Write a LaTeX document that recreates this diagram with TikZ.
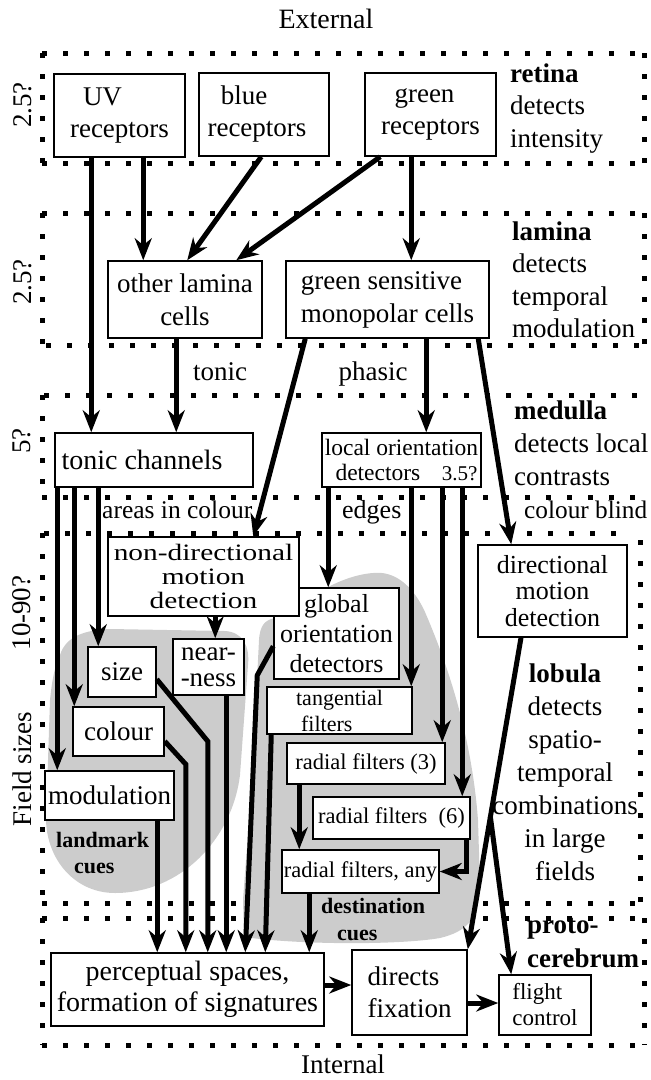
\documentclass[tikz,border=0pt]{standalone}
\usepackage{fontspec}
\setmainfont{Liberation Serif}
\newfontfamily\widefont[FakeStretch=1.25]{Liberation Serif}
\usetikzlibrary{arrows.meta,calc}
\definecolor{lgray}{RGB}{204,204,204}
\newcommand{\fsz}[2]{\fontsize{#1}{#2}\selectfont}
\newcommand{\stack}[2]{\begin{tabular}[t]{@{}#1@{}}#2\end{tabular}}
% box from corner (x1,y1) to corner (x2,y2)
\newcommand{\mkbox}[7][]{\node[boxst,minimum width={#5-#3},minimum height={#6-#4},#1] (#2) at ({(#3+#5)/2},{(#4+#6)/2}) {#7};}
\tikzset{
  boxst/.style={draw, line width=1.5pt, fill=white, inner sep=0pt, align=center, font=\fsz{27}{31}},
  arr/.style={line width=5pt, -{Stealth[length=22pt,width=17pt,inset=7pt]}},
  layerdots/.style={line width=5pt, dash pattern=on 5pt off 16pt},
  shade/.style={fill=lgray, draw=none},
  lbl/.style={inner sep=0pt, font=\fsz{27}{32.5}},
}
\begin{document}
\begin{tikzpicture}[x=1pt,y=-1pt]
\useasboundingbox (0,0) rectangle (651,1080);

% ---------- dotted layer frames ----------
% retina
\draw[layerdots] (42,53) -- (644,53);
\draw[layerdots] (42,53) -- (42,163);
\draw[layerdots] (42,163) -- (644,163);
\draw[layerdots] (644,53) -- (644,163);
% lamina
\draw[layerdots] (42,213) -- (644,213);
\draw[layerdots] (42,213) -- (42,345);
\draw[layerdots] (46,345) -- (644,345);
\draw[layerdots] (644,213) -- (644,345);
% medulla
\draw[layerdots] (44,395) -- (644,395);
\draw[layerdots] (42,395) -- (42,497);
\draw[layerdots] (42,497) -- (644,497);
% lobula
\draw[layerdots] (44,533) -- (630,533);
\draw[layerdots] (42,533) -- (42,903);
\draw[layerdots] (42,903) -- (644,903);
\draw[layerdots] (640,540) -- (640,903);
% protocerebrum
\draw[layerdots] (42,918) -- (644,918);
\draw[layerdots] (42,918) -- (42,1045);
\draw[layerdots] (42,1045) -- (644,1045);
\draw[layerdots] (644,918) -- (644,1045);

% ---------- shaded cue regions ----------
\fill[shade] (60,655) .. controls (66,636) and (85,630) .. (110,629)
  -- (225,631) .. controls (242,632) and (250,645) .. (248,665)
  -- (240,775) .. controls (232,840) and (180,893) .. (115,893)
  .. controls (75,893) and (47,860) .. (46,820)
  -- (50,700) .. controls (52,680) and (55,665) .. (60,655) -- cycle;
\fill[shade] (244,937) -- (243,900) -- (252,780) -- (259,640)
  .. controls (260,625) and (265,620) .. (275,618)
  -- (330,586) .. controls (350,576) and (368,572) .. (382,573)
  .. controls (400,575) and (415,590) .. (425,612)
  .. controls (450,670) and (472,740) .. (478,820)
  -- (480,885) .. controls (480,920) and (465,932) .. (440,938)
  .. controls (400,945) and (300,945) .. (244,937) -- cycle;

% ---------- boxes ----------
\mkbox[font=\fsz{27}{32}]{uv}{54}{74}{185}{157}{UV\hspace*{34pt}\\receptors}
\mkbox[font=\fsz{27}{32}]{blue}{199}{73}{329}{156}{blue\hspace*{40pt}\\receptors\hspace*{14pt}}
\mkbox[font=\fsz{27}{32}]{green}{365}{73}{496}{156}{green\hspace*{12pt}\\receptors}
\mkbox[font=\fsz{27}{33}]{other}{108}{261}{262}{338}{other lamina\\cells}
\mkbox[font=\fsz{27}{33},align=left]{gsens}{286}{261}{489}{338}{green sensitive\\monopolar cells}
\mkbox[font=\fsz{28}{31}]{tonicch}{55}{433}{253}{487}{tonic channels\hspace*{24pt}}
\mkbox[font=\fsz{23.5}{25}]{localor}{322}{433}{481}{487}{local orientation\\\makebox[152pt]{\hspace*{10pt}detectors\hfill{\fsz{21}{25}3.5?}}}
\mkbox[font=\fsz{26}{30}]{glob}{274}{588}{399}{679}{global\\orientation\\detectors}
\mkbox[font={\widefont\fsz{23.5}{24}}]{nondir}{108}{537}{299}{616}{non-directional\\motion\\detection}
\mkbox[font=\fsz{26}{26.5}]{dirmot}{478}{545}{627}{637}{directional\\motion\\detection}
\mkbox[font=\fsz{22}{26},align=left]{tang}{267}{687}{412}{734}{tangential\\\hspace*{5pt}filters}
\mkbox[font=\fsz{22.5}{26}]{rad3}{287}{743}{445}{784}{radial filters (3)}
\mkbox[font=\fsz{22.5}{26}]{rad6}{313}{797}{470}{839}{radial filters\ \ (6)}
\mkbox[font=\fsz{22.5}{26}]{radany}{282}{850}{439}{893}{radial filters, any}
\mkbox{size}{88}{647}{156}{697}{size}
\mkbox[font=\fsz{27}{26}]{near}{173}{639}{244}{695}{near-\\-ness}
\mkbox{colour}{73}{707}{164}{756}{colour}
\mkbox{modul}{45}{771}{174}{820}{modulation}
\mkbox[font=\fsz{28}{31}]{percep}{51}{953}{324}{1026}{perceptual spaces,\\formation of signatures}
\mkbox[font=\fsz{27}{32},align=left]{fix}{352}{950}{467}{1035}{directs\\fixation}
\mkbox[font=\fsz{23}{26},align=left]{flight}{499}{975}{591}{1035}{flight\\control}

% ---------- connectors ----------
% retina to lamina and medulla
\draw[arr] ([xshift=38pt]uv.south west) coordinate (a1) -- (a1 |- tonicch.north);
\draw[arr] ([xshift=90pt]uv.south west) coordinate (b1) -- (b1 |- other.north);
\draw[arr] ([xshift=63pt]blue.south west) -- ([xshift=80pt]other.north west);
\draw[arr] ([xshift=16pt]green.south west) -- ([xshift=129pt]other.north west);
\draw[arr] ([xshift=47pt]green.south west) coordinate (e1) -- (e1 |- gsens.north);
% lamina to medulla and lobula
\draw[arr] ([xshift=69pt]other.south west) coordinate (f1) -- (f1 |- tonicch.north);
\draw[arr] ([xshift=20pt]gsens.south west) -- ([xshift=146pt]nondir.north west);
\draw[arr] ([xshift=141pt]gsens.south west) coordinate (h1) -- (h1 |- localor.north);
\draw[arr] ([xshift=193pt]gsens.south west) -- ([xshift=34pt]dirmot.north west);
% medulla to lobula
\draw[arr] ([xshift=3pt]tonicch.south west) coordinate (j1) -- (j1 |- modul.north);
\draw[arr] ([xshift=20pt]tonicch.south west) coordinate (k1) -- (k1 |- colour.north);
\draw[arr] ([xshift=44pt]tonicch.south west) coordinate (l1) -- (l1 |- size.north);
\draw[arr] ([xshift=7pt]localor.south west) coordinate (m1) -- (m1 |- glob.north);
\draw[arr] ([xshift=90pt]localor.south west) coordinate (n1) -- (n1 |- tang.north);
\draw[arr] ([xshift=121pt]localor.south west) coordinate (o1) -- (o1 |- rad3.north);
\draw[arr] ([xshift=141pt]localor.south west) coordinate (p1) -- (p1 |- rad6.north);
\draw[arr] ([xshift=108pt]nondir.south west) coordinate (q1) -- (q1 |- near.north);
% lobula internal
\draw[arr] ([xshift=13pt]rad3.south west) coordinate (x1) -- (x1 |- radany.north);
\draw[arr] ([xshift=-4pt]rad6.south east) |- (radany.east);
% lobula to protocerebrum
\draw[arr] ([xshift=113pt]modul.south west) coordinate (r1) -- (r1 |- percep.north);
\draw[arr] ([yshift=-35pt]colour.north east) -- ++(21,23) coordinate (s2) -- (s2 |- percep.north);
\draw[arr] ([yshift=-33pt]size.north east) -- ++(51,62) coordinate (t2) -- (t2 |- percep.north);
\draw[arr] ([xshift=54pt]near.south west) coordinate (u1) -- (u1 |- percep.north);
\draw[arr] ([yshift=-59pt]glob.north west) -- ++(-16,29) -- ([xshift=195pt]percep.north west);
\draw[arr] ([xshift=5pt]tang.south west) -- ([xshift=215pt]percep.north west);
\draw[arr] ([xshift=28pt]radany.south west) coordinate (z1) -- (z1 |- percep.north);
\draw[arr] ([xshift=-31.5pt]dirmot.south) coordinate (aa1) -- (fix.north east);
\coordinate (br) at ($(aa1)!0.575!(fix.north east)$);
\draw[arr] (br) -- ([xshift=13pt]flight.north west);
% protocerebrum
\draw[arr] ([yshift=4.5pt]percep.east) coordinate (c1) -- (c1 -| fix.west);
\draw[arr] ([yshift=-10.5pt]fix.east) coordinate (d1) -- (d1 -| flight.west);

% ---------- labels ----------
\node[lbl, font=\fsz{28}{32}, anchor=base] (ext) at (326,28) {External};
\node[lbl, anchor=base] (int) at (343,1073) {Internal};
\node[lbl, anchor=base west] (retinatxt) at (510,82) {\stack{l}{\textbf{retina}\\detects\\intensity}};
\node[lbl, anchor=base west] (laminatxt) at (512,240) {\stack{l}{\textbf{lamina}\\detects\\temporal\\modulation}};
\node[lbl, font=\fsz{27}{33}, anchor=base west] (medullatxt) at (514,419) {\stack{l}{\textbf{medulla}\\detects local\\contrasts}};
\node[lbl, font=\fsz{27}{33}, anchor=base] (lobulatxt) at (565,682) {\stack{c}{\textbf{lobula}\\detects\\spatio-\\temporal\\combinations\\in large\\fields}};
\node[lbl, font=\fsz{27}{34}\bfseries, anchor=base west] (prototxt) at (527,933) {\stack{l}{proto-\\cerebrum}};
\node[lbl, anchor=base] (tonictxt) at (220,380) {tonic};
\node[lbl, anchor=base] (phasictxt) at (373,380) {phasic};
\node[lbl, font=\fsz{25.5}{30}, anchor=base west] (areastxt) at (102,518) {areas in colour};
\node[lbl, font=\fsz{26}{30}, anchor=base west] (edgestxt) at (342,518) {edges};
\node[lbl, font=\fsz{25.3}{30}, anchor=base west] (blindtxt) at (524,518) {colour blind};
\node[lbl, font=\fsz{22}{26}\bfseries, anchor=base west] (landtxt) at (56,847) {\stack{l}{landmark\\\hspace*{18pt}cues}};
\node[lbl, font=\fsz{22}{27}\bfseries, anchor=base west] (desttxt) at (321,913) {\stack{l}{destination\\\hspace*{16pt}cues}};
% field sizes along the left margin
\node[lbl, rotate=90] (fs1) at (23,105) {2.5?};
\node[lbl, rotate=90] (fs2) at (23,282) {2.5?};
\node[lbl, rotate=90] (fs3) at (22,441) {5?};
\node[lbl, rotate=90] (fs4) at (22,613) {10-90?};
\node[lbl, rotate=90] (fs5) at (22,769) {Field sizes};
\end{tikzpicture}
\end{document}
